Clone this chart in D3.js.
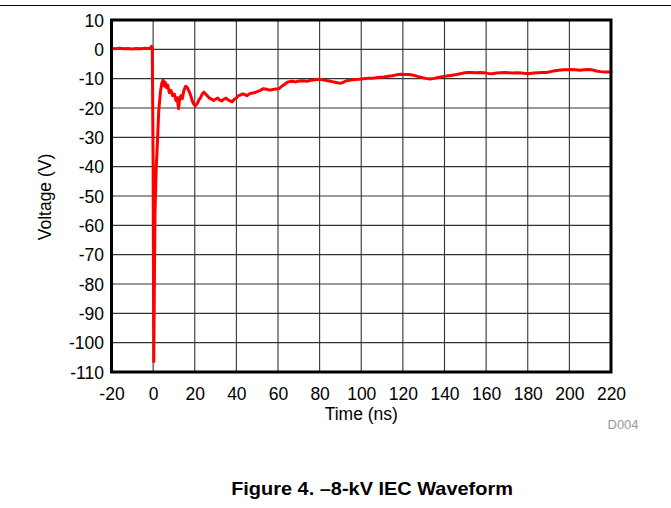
<!DOCTYPE html>
<html>
<head>
<meta charset="utf-8">
<script src="https://cdn.jsdelivr.net/npm/d3@7/dist/d3.min.js"></script>
<style>
  html, body { margin: 0; padding: 0; background: #fff; }
  svg { display: block; font-family: "Liberation Sans", Arial, sans-serif; }
</style>
</head>
<body>
<svg id="chart" width="671" height="508"></svg>
<script>
// ---- data ----
const timeNs = [
  -20, -18, -16, -14, -12, -10, -8, -6, -4, -2, -1.2, -0.8, -0.4,
  0, 0.3, 0.6, 0.9, 1.5, 2.0, 2.7, 3.2, 3.6, 4.2, 4.8, 5.3, 5.8, 6.4, 7.0, 7.8,
  8.6, 9.4, 10.2, 11.0, 11.6, 12.2, 12.8, 13.4, 14.0, 14.8, 15.6, 16.4, 17.2,
  18.0, 18.8, 19.6, 20.4, 21.2, 22.0, 22.8, 23.6, 24.4, 25.2, 26.0, 27.0, 28.0,
  29.0, 30.0, 31.0, 32.0, 33.0, 34.0, 35.0, 36.0, 37.0, 38.0, 39.0, 40.0, 41.0,
  42.0, 43.0, 44.0, 45.0, 46.0, 47.0, 48.5, 50, 51.5, 53, 54.5, 56, 57.5, 59,
  60.5, 61.5, 62.5, 63.5, 64.5, 65.5, 67, 68.5, 70, 72, 74, 76, 78, 80, 82, 84,
  86, 88, 90, 91.5, 93, 95, 97, 99, 101, 103, 105, 107, 109, 111, 113, 115, 117,
  119, 121, 123, 125, 127, 129, 131, 133, 135, 137, 139, 141, 143, 145, 147, 149,
  151, 153, 155, 157, 159, 161, 163, 165, 167, 169, 171, 173, 175, 177, 179, 181,
  183, 185, 187, 189, 191, 193, 195, 197, 199, 201, 203, 205, 207, 209, 211, 213,
  215, 217, 219, 220
];
const voltageV = [
  0.3, 0.2, 0.4, 0.2, 0.3, 0.1, 0.3, 0.2, 0.4, 0.3, 0.5, 1.0, 0.2,
  -40, -106.5, -80, -56, -40, -33, -21, -17, -14, -11.5, -10.5, -12.5, -11.2, -13, -12.2, -14.8,
  -14, -15.8, -15.3, -17.5, -16.5, -20.2, -16.5, -15.8, -16.8, -14, -12.6, -13, -14.2,
  -15.6, -17.6, -18.8, -19.2, -18.5, -17.2, -16.5, -15.2, -14.6, -15.2, -15.8, -16.6, -16.9,
  -17.4, -17.0, -16.6, -17.3, -17.6, -17.0, -16.6, -17.2, -17.6, -17.9, -17.0, -16.6, -15.8,
  -15.6, -15.2, -15.4, -15.8, -15.3, -15.0, -14.8, -14.4, -14.0, -13.4, -13.6, -13.9, -13.7, -13.5,
  -13.4, -12.8, -12.2, -11.8, -11.2, -11.0, -10.9, -11.1, -10.8, -10.7, -10.9, -10.5, -10.4, -10.2, -10.5, -10.7,
  -11.0, -11.3, -11.6, -11.2, -10.7, -10.5, -10.3, -10.2, -10.0, -9.9, -9.9, -9.7, -9.5, -9.4, -9.2, -9.0, -8.7,
  -8.5, -8.6, -8.6, -8.8, -9.2, -9.6, -9.9, -10.1, -9.9, -9.6, -9.3, -9.1, -8.9, -8.7, -8.4, -8.1,
  -7.9, -7.9, -8.0, -7.9, -8.0, -8.2, -8.3, -8.1, -8.0, -7.9, -8.0, -8.1, -8.0, -8.1, -8.2, -8.2,
  -8.1, -8.0, -7.9, -7.9, -7.6, -7.3, -7.1, -7.0, -7.0, -6.9, -7.0, -7.1, -7.0, -6.9, -7.0, -7.4,
  -7.6, -7.7, -7.7, -7.7
];
const xTicks = [-20, 0, 20, 40, 60, 80, 100, 120, 140, 160, 180, 200, 220];
const yTicks = [10, 0, -10, -20, -30, -40, -50, -60, -70, -80, -90, -100, -110];
const xLabel = "Time (ns)";
const yLabel = "Voltage (V)";
const caption = "Figure 4. \u20138-kV IEC Waveform";
const figId = "D004";

// ---- layout ----
const svg = d3.select("#chart");
const L = 111.5, R = 611, T = 20, B = 372;
const x = d3.scaleLinear().domain([-20, 220]).range([L, R]);
const y = d3.scaleLinear().domain([-110, 10]).range([B, T]);
const fmt = d => String(d);   // plain hyphen-minus as in the reference

// top rule
svg.append("line").attr("x1", 0).attr("x2", 671).attr("y1", 5.5).attr("y2", 5.5)
  .attr("stroke", "#000").attr("stroke-width", 1);

// grid
const grid = svg.append("g");
grid.selectAll("line.v").data(xTicks).enter().append("line")
  .attr("x1", d => x(d)).attr("x2", d => x(d)).attr("y1", T).attr("y2", B)
  .attr("stroke", "#333").attr("stroke-width", 1.1);
grid.selectAll("line.h").data(yTicks).enter().append("line")
  .attr("y1", d => y(d)).attr("y2", d => y(d)).attr("x1", L).attr("x2", R)
  .attr("stroke", "#333").attr("stroke-width", 1.1);

// axes (labels only)
const xAxis = d3.axisBottom(x).tickValues(xTicks).tickSize(0).tickPadding(0).tickFormat(fmt);
const gx = svg.append("g").attr("transform", `translate(0,${B})`).call(xAxis);
gx.select(".domain").remove();
gx.selectAll("text").attr("font-size", 17.5).attr("fill", "#000")
  .attr("font-family", "Liberation Sans, Arial, sans-serif").attr("dy", null).attr("y", 28);

const yAxis = d3.axisLeft(y).tickValues(yTicks).tickSize(0).tickPadding(0).tickFormat(fmt);
const gy = svg.append("g").attr("transform", `translate(${L},0)`).call(yAxis);
gy.select(".domain").remove();
gy.selectAll("text").attr("font-size", 17.5).attr("fill", "#000")
  .attr("font-family", "Liberation Sans, Arial, sans-serif").attr("x", -7.5).attr("dy", "0.36em");

// waveform
const pts = timeNs.map((t, i) => [t, voltageV[i]]);
const line = d3.line().x(d => x(d[0])).y(d => y(d[1]));
svg.append("path").datum(pts).attr("d", line)
  .attr("fill", "none").attr("stroke", "#ff0000").attr("stroke-width", 3)
  .attr("stroke-linejoin", "round").attr("stroke-linecap", "round");

// frame
svg.append("rect").attr("x", L).attr("y", T).attr("width", R - L).attr("height", B - T)
  .attr("fill", "none").attr("stroke", "#000").attr("stroke-width", 3);

// axis titles
svg.append("text").attr("x", (L + R) / 2).attr("y", 420).attr("text-anchor", "middle")
  .attr("font-size", 17.5).attr("fill", "#000").text(xLabel);
svg.append("text").attr("transform", `translate(51,197) rotate(-90)`).attr("text-anchor", "middle")
  .attr("font-size", 17.5).attr("fill", "#000").text(yLabel);

// id
svg.append("text").attr("x", 607.5).attr("y", 429).attr("font-size", 13).attr("fill", "#9a9a9a").text(figId);

// caption (slightly wide lettering as in the reference)
svg.append("text").attr("transform", "translate(372,495) scale(1.14,1)").attr("text-anchor", "middle")
  .attr("font-size", 17.5).attr("font-weight", "bold").attr("fill", "#000").text(caption);
</script>
</body>
</html>
